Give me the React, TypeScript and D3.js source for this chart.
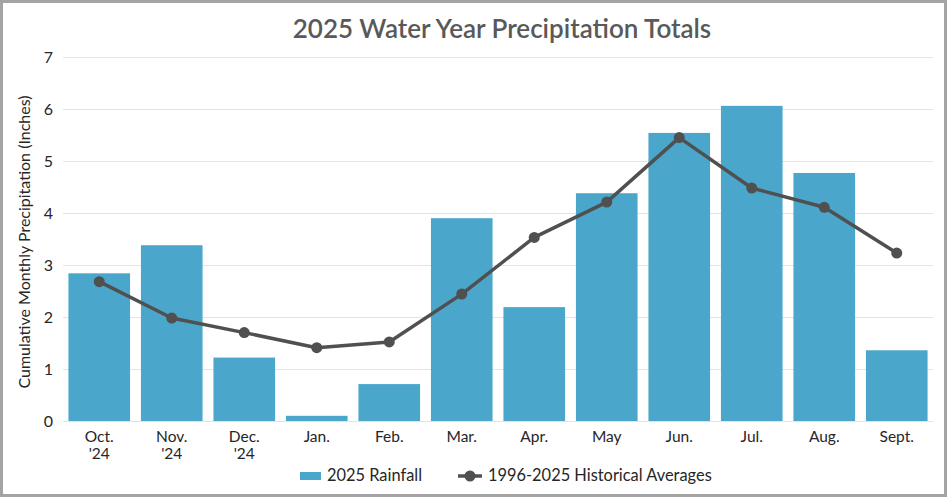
import React, { useRef, useEffect } from 'react';
import * as d3 from 'd3';

const MONTHS = [["Oct.", "'24"], ["Nov.", "'24"], ["Dec.", "'24"], ["Jan."], ["Feb."], ["Mar."], ["Apr."], ["May"], ["Jun."], ["Jul."], ["Aug."], ["Sept."]];
const RAINFALL_2025 = [2.84, 3.38, 1.22, 0.1, 0.71, 3.9, 2.19, 4.38, 5.54, 6.06, 4.77, 1.36];
const HIST_AVG = [2.68, 1.98, 1.7, 1.41, 1.52, 2.44, 3.53, 4.21, 5.45, 4.48, 4.11, 3.23];
const Y_TICKS = [0, 1, 2, 3, 4, 5, 6, 7];

const BAR_COLOR = '#4ba6cb';
const LINE_COLOR = '#505050';
const FONT = 'Lato, "Open Sans", sans-serif';

const App: React.FC = () => {
    const svgRef = useRef<SVGSVGElement | null>(null);

    useEffect(() => {
        document.body.style.margin = '0';
        if (!svgRef.current) return;

        const width = 950, height = 501;
        const margin = { top: 57, right: 17, bottom: 80, left: 63 };
        const svg = d3.select(svgRef.current).attr('width', width).attr('height', height);
        svg.selectAll('*').remove();

        // frame
        svg.append('rect')
            .attr('x', 1.5).attr('y', 1.5)
            .attr('width', 944).attr('height', 494)
            .attr('fill', 'white')
            .attr('stroke', '#a3a3a3')
            .attr('stroke-width', 3);

        const x = d3.scaleBand<number>()
            .domain(d3.range(MONTHS.length))
            .range([margin.left, width - margin.right])
            .paddingInner(0.15)
            .paddingOuter(0.075);
        const y = d3.scaleLinear().domain([0, 7]).range([height - margin.bottom, margin.top]);

        // title
        svg.append('text')
            .attr('x', 502)
            .attr('y', 38)
            .attr('text-anchor', 'middle')
            .attr('font-family', FONT)
            .attr('font-size', 26)
            .attr('font-weight', 600)
            .attr('fill', '#595959')
            .text('2025 Water Year Precipitation Totals');

        // grid + y axis
        const yAxis = svg.append('g')
            .attr('transform', `translate(${margin.left},0)`)
            .call(d3.axisLeft(y).tickValues(Y_TICKS).tickFormat(d3.format('d')).tickSize(-(width - margin.left - margin.right)).tickPadding(10));
        yAxis.select('.domain').remove();
        yAxis.selectAll('.tick line').attr('stroke', '#e3e3e3').attr('stroke-width', 1.2);
        yAxis.selectAll('.tick text')
            .attr('font-family', FONT).attr('font-size', 16).attr('fill', '#262626');

        svg.append('text')
            .attr('transform', `translate(30,242) rotate(-90)`)
            .attr('text-anchor', 'middle')
            .attr('font-family', FONT)
            .attr('font-size', 16)
            .attr('fill', '#262626')
            .text('Cumulative Monthly Precipitation (Inches)');

        // bars
        svg.append('g').selectAll('rect')
            .data(RAINFALL_2025)
            .join('rect')
            .attr('x', (_, i) => x(i)!)
            .attr('width', x.bandwidth())
            .attr('y', d => y(d))
            .attr('height', d => y(0) - y(d))
            .attr('fill', BAR_COLOR);

        // x labels
        const xl = svg.append('g');
        MONTHS.forEach((lines, i) => {
            const t = xl.append('text')
                .attr('x', x(i)! + x.bandwidth() / 2)
                .attr('y', y(0) + 21)
                .attr('text-anchor', 'middle')
                .attr('font-family', FONT)
                .attr('font-size', 15.5)
                .attr('fill', '#262626');
            lines.forEach((s, j) => {
                t.append('tspan')
                    .attr('x', x(i)! + x.bandwidth() / 2)
                    .attr('dy', j === 0 ? 0 : 17)
                    .text(s);
            });
        });

        // line
        const line = d3.line<number>()
            .x((_, i) => x(i)! + x.bandwidth() / 2)
            .y(d => y(d));
        svg.append('path')
            .datum(HIST_AVG)
            .attr('d', line)
            .attr('fill', 'none')
            .attr('stroke', LINE_COLOR)
            .attr('stroke-width', 3.5)
            .attr('stroke-linejoin', 'round');
        svg.append('g').selectAll('circle')
            .data(HIST_AVG)
            .join('circle')
            .attr('cx', (_, i) => x(i)! + x.bandwidth() / 2)
            .attr('cy', d => y(d))
            .attr('r', 5.5)
            .attr('fill', LINE_COLOR);

        // legend
        const lg = svg.append('g').attr('font-family', FONT).attr('font-size', 16.4).attr('fill', '#262626');
        lg.append('rect').attr('x', 300).attr('y', 472).attr('width', 21).attr('height', 8).attr('fill', BAR_COLOR);
        lg.append('text').attr('x', 327).attr('y', 481).text('2025 Rainfall');
        lg.append('line').attr('x1', 458).attr('x2', 482).attr('y1', 476).attr('y2', 476)
            .attr('stroke', LINE_COLOR).attr('stroke-width', 3.5);
        lg.append('circle').attr('cx', 470).attr('cy', 476).attr('r', 5.5).attr('fill', LINE_COLOR);
        lg.append('text').attr('x', 488).attr('y', 481).text('1996-2025 Historical Averages');
    }, []);

    return <svg ref={svgRef} style={{ display: 'block' }}></svg>;
};

export default App;
